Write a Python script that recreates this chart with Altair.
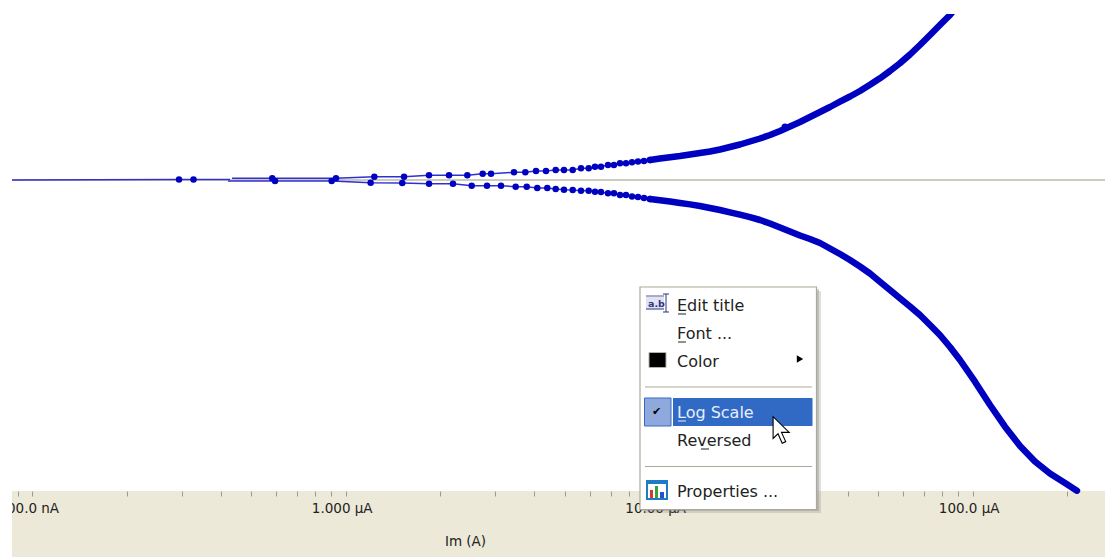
import altair as alt
import pandas as pd

BLUE = "#0000c0"
THIN = "#3030d0"
BAND = "#ece9d8"
FONT = "DejaVu Sans"

# Readings: current in uA, response in arbitrary mV-like units
stem_i = [0.0862, 0.294, 0.327, 0.4275]
stem_v = [0.0, 0.5, 0.5, 0.5]

upper_i = [0.434, 0.583, 0.931, 1.234, 1.535, 1.844, 2.136, 2.443, 2.735, 2.908, 3.442, 3.741, 4.046, 4.354,
           4.676, 4.969, 5.298, 5.631, 5.958, 6.240, 6.521, 6.865, 7.173, 7.499, 7.836, 8.190, 8.559, 8.944, 9.347]
upper_v = [1.7, 1.7, 1.7, 3.3, 3.3, 4.7, 4.7, 4.7, 6.3, 6.3, 7.7, 7.7, 9.0, 9.0,
           10.0, 10.0, 10.0, 11.7, 11.7, 13.3, 13.3, 15.0, 15.0, 16.7, 16.7, 17.7, 18.5, 19.0, 20.0]

lower_i = [0.421, 0.595, 0.902, 1.201, 1.515, 1.844, 2.199, 2.523, 2.823, 3.129, 3.485, 3.780, 4.084, 4.396,
           4.676, 4.969, 5.298, 5.631, 5.958, 6.240, 6.521, 6.865, 7.173, 7.499, 7.836, 8.190, 8.559, 8.944, 9.347]
lower_v = [-1.0, -1.0, -1.0, -2.7, -3.0, -3.7, -3.7, -5.7, -5.7, -5.7, -6.7, -6.7, -8.0, -8.0,
           -9.0, -9.7, -10.0, -10.7, -10.7, -11.7, -12.0, -13.3, -13.3, -15.0, -15.0, -16.5, -17.0, -18.0, -19.0]

upper_dense_i = [9.347, 10.06, 10.83, 11.65, 12.54, 13.49, 14.52, 15.63, 16.82, 18.10, 19.48, 20.97, 22.57, 24.29,
                 26.14, 28.13, 30.27, 32.58, 35.06, 37.73, 40.61, 43.7, 47.03, 50.6, 54.47, 58.6, 63.1, 67.9, 73.1,
                 78.6, 84.66, 87.8]
upper_dense_v = [20.0, 21.5, 22.8, 24.0, 25.5, 27.0, 28.5, 30.5, 33.0, 35.5, 38.5, 41.5, 45.0, 49.0,
                 53.5, 58.0, 63.0, 68.0, 73.0, 78.3, 83.5, 89.0, 95.2, 101.7, 109.0, 116.7, 125.5, 135.0, 145.0,
                 155.0, 165.0, 171.0]

lower_dense_i = [9.347, 10.06, 10.83, 11.65, 12.54, 13.49, 14.52, 15.63, 16.82, 18.10, 19.48, 20.97, 22.57, 24.29,
                 26.14, 28.13, 30.27, 32.58, 35.06, 37.73, 40.61, 43.7, 47.03, 50.6, 54.47, 58.6, 63.1, 67.9, 73.1,
                 78.6, 84.66, 91.1, 101.7, 113.6, 126.8, 141.6, 158.0, 176.4, 197.0, 215.1]
lower_dense_v = [-19.0, -20.2, -21.5, -23.0, -24.4, -26.0, -28.0, -30.0, -32.3, -34.7, -37.2, -40.0, -43.5, -47.5,
                 -51.5, -55.5, -59.0, -63.0, -68.5, -74.0, -80.0, -86.5, -93.5, -101.7, -110.0, -118.3, -126.5, -135.0, -145.0,
                 -155.0, -167.0, -180.0, -201.7, -225.0, -246.7, -266.0, -281.5, -293.5, -303.0, -310.7]

blip_i = [25.2]
blip_v = [53.0]

tick_values = [0.09, 0.1, 0.2, 0.3, 0.4, 0.5, 0.6, 0.7, 0.8, 0.9, 1, 2, 3, 4, 5, 6, 7, 8, 9,
               10, 20, 30, 40, 50, 60, 70, 80, 90, 100, 200]
label_expr = ("datum.value==0.1?'100.0 nA':datum.value==1?'1.000 µA':"
              "datum.value==10?'10.00 µA':datum.value==100?'100.0 µA':''")
x_title = "Im (A)"
menu_items = ["Edit title", "Font ...", "Color", "Log Scale", "Reversed", "Properties ..."]

OX, OY = 12, 14  # plot origin on the page
W, H = 1093, 477

x_enc = alt.X("i:Q",
    scale=alt.Scale(type="log", domain=[0.0862, 264.3], nice=False),
    axis=alt.Axis(values=tick_values, labelExpr=label_expr, title=x_title, domain=False, grid=False,
                  ticks=True, tickSize=5, tickColor="#9a9a90", tickWidth=1, labelFont=FONT, labelFontSize=13.5,
                  labelColor="#222222", labelPadding=5, labelOffset=-4, labelOverlap=False, labelFlush=False,
                  labelBound=False, titleFont=FONT, titleFontSize=13.5, titleFontWeight="normal", titleColor="#222222",
                  titleX=465 - OX, titleY=541 - OY - H, titleBaseline="middle", titleAlign="center", zindex=0))
y_enc = alt.Y("v:Q", scale=alt.Scale(domain=[-311, 166], nice=False, zero=False), axis=None)


def frame(i, v):
    return pd.DataFrame({"i": i, "v": v})


def series(i, v):
    return alt.Chart(frame(i, v)).encode(x=x_enc, y=y_enc)


one = pd.DataFrame({"a": [0]})


def rect(x0, x1, y0, y1, color, **kw):
    return alt.Chart(one).mark_rect(color=color, **kw).encode(
        x=alt.value(x0 - OX), x2=alt.value(x1 - OX), y=alt.value(y0 - OY), y2=alt.value(y1 - OY))


def hline(x0, x1, y, color, width=1):
    return alt.Chart(one).mark_rule(color=color, strokeWidth=width).encode(
        x=alt.value(x0 - OX), x2=alt.value(x1 - OX), y=alt.value(y - OY))


def vline(x, y0, y1, color, width=1):
    return alt.Chart(one).mark_rule(color=color, strokeWidth=width).encode(
        x=alt.value(x - OX), y=alt.value(y0 - OY), y2=alt.value(y1 - OY))


def label(x, y, s, color="#222222", size=16, **kw):
    return alt.Chart(pd.DataFrame({"t": [s]})).mark_text(
        align="left", baseline="middle", font=FONT, fontSize=size, color=color, **kw
    ).encode(x=alt.value(x - OX), y=alt.value(y - OY), text="t:N")


zero = alt.Chart(frame([0.0862], [0.0])).mark_rule(color="#bdbaa8", strokeWidth=1.4).encode(y=y_enc)

curves = [
    zero,
    series(stem_i, stem_v).mark_line(color=THIN, strokeWidth=1.5),
    series(upper_i, upper_v).mark_line(color=THIN, strokeWidth=1.5),
    series(lower_i, lower_v).mark_line(color=THIN, strokeWidth=1.5),
    series(upper_dense_i, upper_dense_v).mark_line(color=BLUE, strokeWidth=6.5, strokeCap="round", strokeJoin="round"),
    series(lower_dense_i, lower_dense_v).mark_line(color=BLUE, strokeWidth=6.5, strokeCap="round", strokeJoin="round"),
    series(stem_i[1:3], stem_v[1:3]).mark_circle(color=BLUE, size=42, opacity=1),
    series(upper_i[1:], upper_v[1:]).mark_circle(color=BLUE, size=42, opacity=1),
    series(lower_i[1:], lower_v[1:]).mark_circle(color=BLUE, size=42, opacity=1),
    series(blip_i, blip_v).mark_circle(color=BLUE, size=50, opacity=1),
]

EDGE = "#aca899"
CURSOR = "M-.6 -1L-.6 .55L-.25 .22L.05 .9L.3 .78L0 .12L.55 .12Z"

menu = [
    # shadow and body
    rect(644, 821, 291, 513, "#808080", opacity=0.25),
    rect(642, 819, 289, 511, "#808080", opacity=0.35),
    rect(640, 816.5, 287, 509.5, "#ffffff", stroke=EDGE, strokeWidth=1.2),
    # title icon
    rect(646, 664, 297, 309, "#dfe3f4"),
    hline(646, 664, 296, "#55559a"),
    hline(646, 664, 309, "#33337f"),
    vline(666, 294, 312, "#33337f"),
    hline(663, 669, 294, "#33337f"),
    hline(663, 669, 312, "#33337f"),
    label(648, 304, "a.b", color="#33337f", size=9.5, fontWeight="bold"),
    # colour swatch
    rect(649, 666, 352.5, 367.5, "#000000", stroke="#b5b2a3", strokeWidth=1),
    # separators
    hline(645, 812, 387, EDGE),
    hline(645, 812, 466.5, EDGE),
    # highlighted row and check box
    rect(644.5, 671, 398, 426, "#8fa9dc", stroke="#316ac5", strokeWidth=1),
    rect(673, 812.5, 398, 426, "#316ac5"),
    label(652, 412, "✔", color="#000000", size=11),
    # submenu arrow
    alt.Chart(one).mark_point(shape="triangle-right", filled=True, color="#000000", size=55, opacity=1).encode(
        x=alt.value(800 - OX), y=alt.value(359 - OY)),
    # item labels
    label(677, 306, menu_items[0]),
    label(677, 334, menu_items[1]),
    label(677, 362, menu_items[2]),
    label(677, 413, menu_items[3], color="#e8eefb"),
    label(677, 441, menu_items[4]),
    label(677, 492, menu_items[5]),
    # mnemonic underlines
    hline(678, 686, 314, "#222222"),
    hline(678, 686, 342, "#222222"),
    hline(678, 686, 421, "#e8eefb"),
    hline(701, 709, 449, "#222222"),
    # properties icon
    rect(646, 668, 480, 500, "#1f7bc8"),
    rect(648, 666, 484, 498, "#ffffff"),
    rect(650, 653, 490, 498, "#d83a2a"),
    rect(655, 658, 486, 498, "#3aa03a"),
    rect(660, 664, 492, 498, "#2a50c8"),
    # cursor
    alt.Chart(one).mark_point(shape=CURSOR, filled=True, fill="#ffffff", stroke="#000000", strokeWidth=1.1,
                              size=784, opacity=1).encode(
        x=alt.value(781.5 - OX), y=alt.value(430.7 - OY)),
]

# page-white margins above and left of the plot, over the band colour
margins = [
    rect(0, OX, 0, 560, "#ffffff"),
    rect(0, 1110, 0, OY, "#ffffff"),
]

chart = alt.layer(*curves, *margins, *menu).properties(
    width=W, height=H,
    background=BAND,
    padding={"left": 4, "top": 6, "right": 0, "bottom": 66},
    autosize=alt.AutoSizeParams(type="none"),
).configure_view(fill="#ffffff", strokeWidth=0)

PAGE_STYLE = ("body { margin: 0 !important; width: 1105px !important; overflow: visible !important; } "
              "#vis.vega-embed { display: block !important; position: absolute !important; left: 8px; top: 8px; "
              "width: 1097px !important; overflow: visible !important; } "
              "#vis svg { display: block; width: 1097px !important; max-width: none !important; overflow: visible !important; }")
chart.save("out.html", embed_options={"renderer": "svg", "actions": False, "defaultStyle": PAGE_STYLE})
